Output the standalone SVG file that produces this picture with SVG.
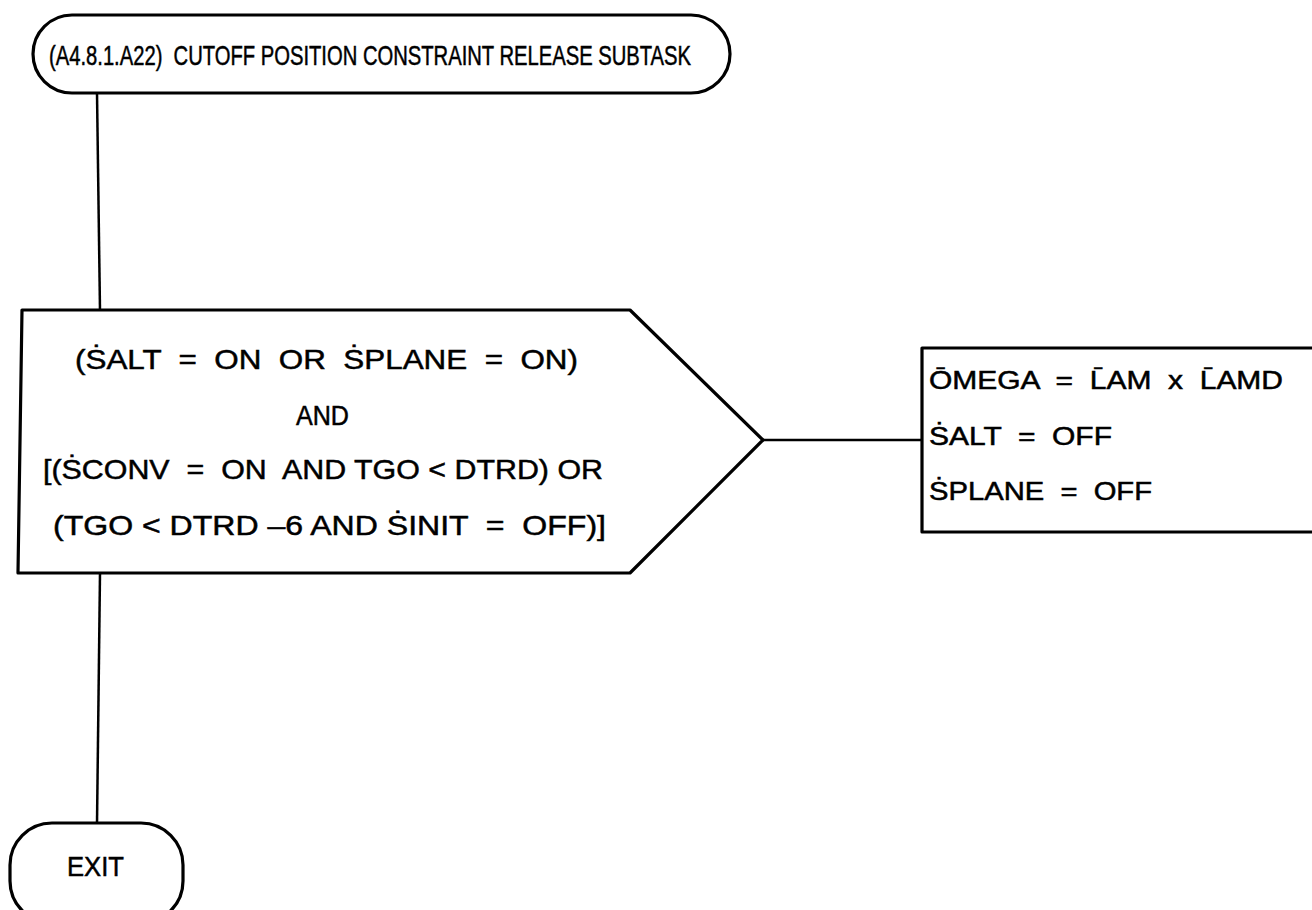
<svg xmlns="http://www.w3.org/2000/svg" width="1312" height="910" viewBox="0 0 1312 910">
<style>
.s{fill:#fff;stroke:#000;stroke-width:3.2;stroke-linejoin:round}
.c{fill:none;stroke:#000;stroke-width:2.5}
text{font-family:"Liberation Sans",Arial,sans-serif;font-size:28px;fill:#000;stroke:#000;stroke-width:0.5}
.a{font-size:25px}
</style>
<rect width="1312" height="910" fill="#fff"/>
<g id="connectors">
<path class="c" d="M97,93 L100,311"/>
<path class="c" d="M100,573 L97,824"/>
<path class="c" d="M763,440 L923,440"/>
</g>
<g id="start">
<rect class="s" x="33" y="15" width="697" height="78" rx="39" ry="39"/>
<text x="49" y="65" textLength="642" lengthAdjust="spacingAndGlyphs" xml:space="preserve">(A4.8.1.A22)  CUTOFF POSITION CONSTRAINT RELEASE SUBTASK</text>
</g>
<g id="decision">
<path class="s" d="M22,310 L630,310 L763,440 L630,573 L18,573 Z"/>
<text x="75" y="369" textLength="503" lengthAdjust="spacingAndGlyphs" xml:space="preserve">(ṠALT  =  ON  OR  ṠPLANE  =  ON)</text>
<text x="296" y="425" textLength="53" lengthAdjust="spacingAndGlyphs">AND</text>
<text x="43" y="479" textLength="560" lengthAdjust="spacingAndGlyphs" xml:space="preserve">[(ṠCONV  =  ON  AND TGO &lt; DTRD) OR</text>
<text x="53" y="535" textLength="553" lengthAdjust="spacingAndGlyphs" xml:space="preserve">(TGO &lt; DTRD –6 AND ṠINIT  =  OFF)]</text>
</g>
<g id="action">
<rect class="s" x="922" y="348" width="400" height="184"/>
<text class="a" x="929" y="389" textLength="354" lengthAdjust="spacingAndGlyphs" xml:space="preserve">ŌMEGA  =  L̄AM  x  L̄AMD</text>
<text class="a" x="929" y="445" textLength="183" lengthAdjust="spacingAndGlyphs" xml:space="preserve">ṠALT  =  OFF</text>
<text class="a" x="929" y="500" textLength="223" lengthAdjust="spacingAndGlyphs" xml:space="preserve">ṠPLANE  =  OFF</text>
</g>
<g id="exit">
<rect class="s" x="10" y="823" width="173" height="100" rx="42" ry="42"/>
<text x="67" y="876" textLength="57" lengthAdjust="spacingAndGlyphs">EXIT</text>
</g>
</svg>
